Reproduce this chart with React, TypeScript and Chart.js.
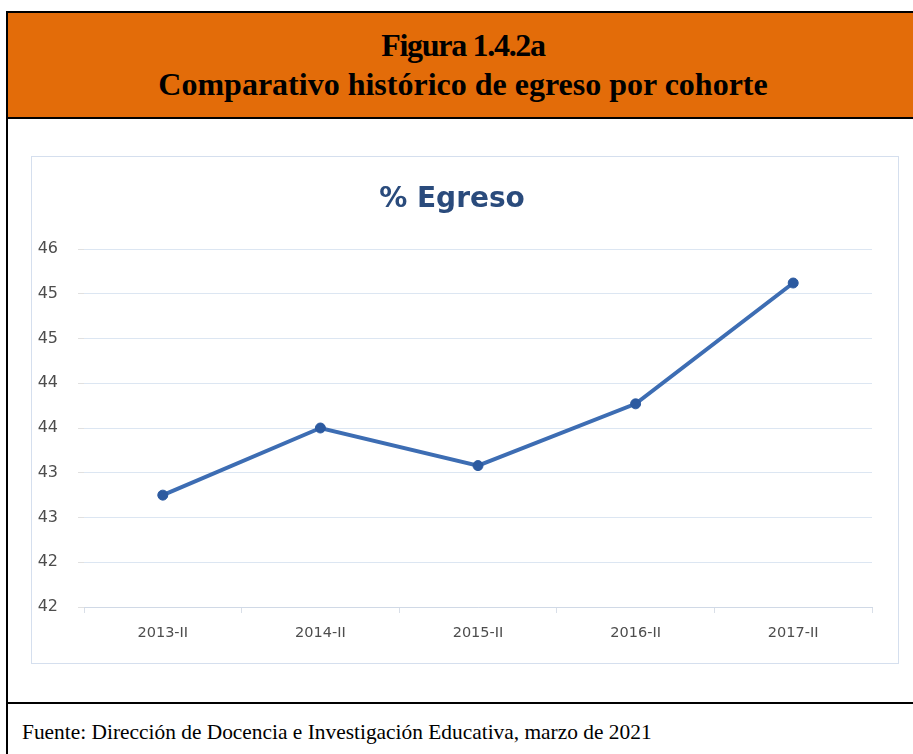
import React, { useEffect, useRef } from "react";
import { Chart, registerables } from "chart.js";

Chart.register(...registerables);

const categories = ["2013-II", "2014-II", "2015-II", "2016-II", "2017-II"];
const egresoValues = [42.75, 43.5, 43.08, 43.77, 45.12];
const yMin = 41.5;
const yMax = 45.5;
const yStep = 0.5;

const headerLine1 = "Figura 1.4.2a";
const headerLine2 = "Comparativo histórico de egreso por cohorte";
const chartTitle = "% Egreso";
const sourceText = "Fuente: Dirección de Docencia e Investigación Educativa, marzo de 2021";

export default function App() {
  const canvasRef = useRef<HTMLCanvasElement | null>(null);

  useEffect(() => {
    if (!canvasRef.current) return;
    const chart = new Chart(canvasRef.current, {
      type: "line",
      data: {
        labels: categories,
        datasets: [
          {
            label: chartTitle,
            data: egresoValues,
            borderColor: "#3d6db3",
            borderWidth: 4,
            pointRadius: 5,
            pointHoverRadius: 5,
            pointBackgroundColor: "#2c5aa0",
            pointBorderColor: "#2c5aa0",
            pointBorderWidth: 1,
            tension: 0,
            fill: false,
          },
        ],
      },
      options: {
        animation: false,
        responsive: false,
        maintainAspectRatio: false,
        layout: { padding: { left: 0, right: 26, top: 0, bottom: 0 } },
        plugins: {
          legend: { display: false },
          tooltip: { enabled: false },
          title: {
            display: true,
            text: chartTitle,
            color: "#2a4b7c",
            font: { family: "DejaVu Sans", size: 28, weight: "bold" },
            padding: { top: 26, bottom: 32.4 },
          },
        },
        scales: {
          x: {
            type: "category",
            offset: true,
            grid: {
              display: true,
              drawOnChartArea: false,
              drawTicks: true,
              tickLength: 6,
              tickColor: "#d9dfe8",
              offset: true,
            },
            border: { display: true, color: "#d0d9e6", width: 1 },
            ticks: {
              font: { family: "DejaVu Sans", size: 14.5 },
              color: "#4d4d4d",
              padding: 12,
              maxRotation: 0,
            },
            afterFit: (s: any) => {
              s.height = 56;
            },
          },
          y: {
            min: yMin,
            max: yMax,
            ticks: {
              stepSize: yStep,
              callback: (v: any) => String(Math.round(Number(v))),
              font: { family: "DejaVu Sans", size: 16 },
              color: "#4d4d4d",
              padding: 20,
            },
            grid: {
              color: "#dce6f2",
              lineWidth: 1,
              drawTicks: true,
              tickLength: 6,
              tickColor: "#e0e0e0",
            },
            border: { display: false },
            afterFit: (s: any) => {
              s.width = 52;
            },
          },
        },
      },
    });
    return () => chart.destroy();
  }, []);

  return (
    <div
      style={{
        position: "absolute",
        left: 0,
        top: 0,
        width: 913,
        height: 754,
        overflow: "hidden",
        background: "#ffffff",
      }}
    >
      <div
        style={{
          position: "absolute",
          left: 6,
          top: 11,
          width: 940,
          height: 780,
          borderLeft: "2px solid #000",
          borderTop: "2px solid #000",
        }}
      />
      <div
        style={{
          position: "absolute",
          left: 8,
          top: 13,
          width: 912,
          height: 104,
          background: "#E36C09",
          borderBottom: "2px solid #000",
        }}
      >
        <div
          style={{
            position: "absolute",
            left: 0,
            top: 13,
            width: 910,
            textAlign: "center",
            fontFamily: "'Liberation Serif', 'Times New Roman', serif",
            fontWeight: "bold",
            fontSize: 32,
            lineHeight: "39px",
            color: "#000",
          }}
        >
          <div style={{ letterSpacing: "-1.3px" }}>{headerLine1}</div>
          <div>{headerLine2}</div>
        </div>
      </div>
      <div
        style={{
          position: "absolute",
          left: 31,
          top: 156,
          width: 868,
          height: 508,
          boxSizing: "border-box",
          border: "1px solid #d5dfee",
          background: "#fff",
        }}
      >
        <canvas
          ref={canvasRef}
          width={866}
          height={506}
          style={{ position: "absolute", left: 0, top: 0, width: 866, height: 506 }}
        />
      </div>
      <div
        style={{
          position: "absolute",
          left: 8,
          top: 702,
          width: 920,
          height: 2,
          background: "#000",
        }}
      />
      <div
        style={{
          position: "absolute",
          left: 22,
          top: 720,
          fontFamily: "'Liberation Serif', 'Times New Roman', serif",
          fontSize: 21.4,
          lineHeight: "24px",
          color: "#000",
          whiteSpace: "nowrap",
        }}
      >
        {sourceText}
      </div>
    </div>
  );
}
